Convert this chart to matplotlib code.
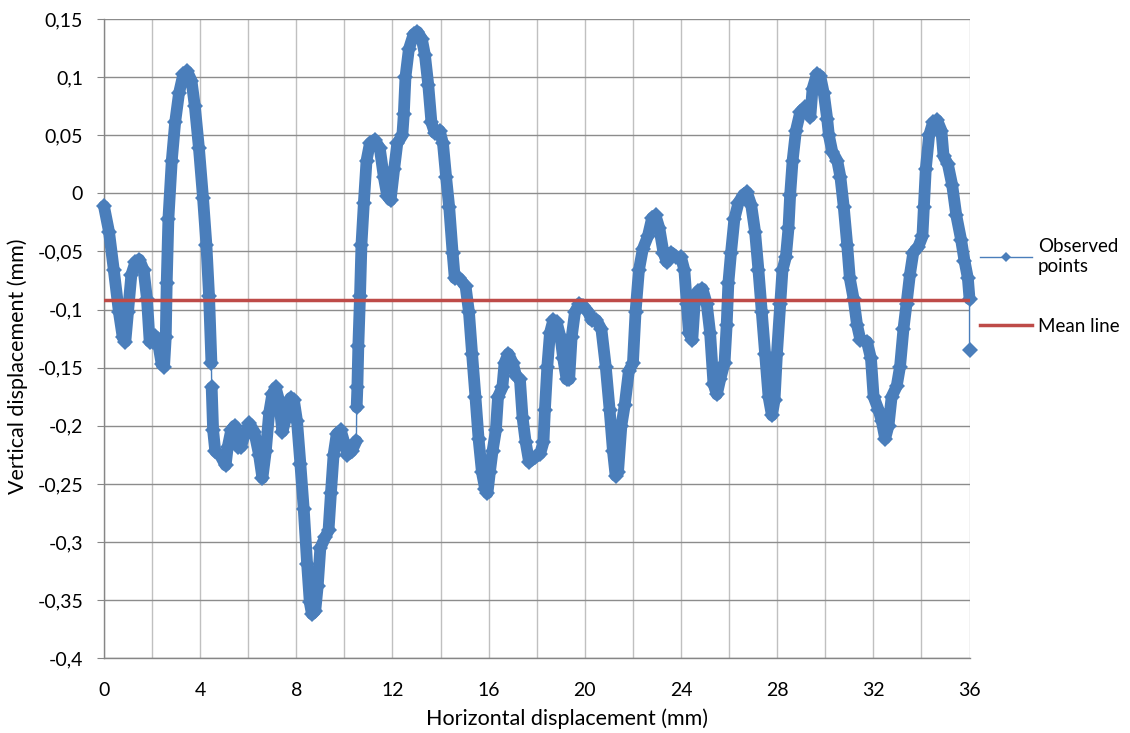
import numpy as np
import matplotlib
matplotlib.use('Agg')
import matplotlib.pyplot as plt
from matplotlib.ticker import FuncFormatter, MultipleLocator

# values (mm)
x_mm = [
    0, 0.21, 0.41, 0.62, 0.78, 0.89, 1.0, 1.14, 1.31, 1.47,
    1.65, 1.79, 1.9, 2.02, 2.13, 2.27, 2.4, 2.5, 2.57, 2.61,
    2.68, 2.82, 2.96, 3.12, 3.3, 3.46, 3.64, 3.78, 3.95, 4.12,
    4.26, 4.37, 4.47, 4.48, 4.54, 4.63, 4.85, 5.06, 5.15, 5.29,
    5.43, 5.59, 5.7, 5.86, 6.04, 6.25, 6.45, 6.59, 6.73, 6.87,
    7.0, 7.14, 7.28, 7.42, 7.55, 7.76, 7.9, 8.03, 8.17, 8.31,
    8.45, 8.56, 8.65, 8.79, 8.89, 9.0, 9.2, 9.34, 9.44, 9.55,
    9.68, 9.85, 9.99, 10.12, 10.3, 10.5, 10.51, 10.54, 10.58, 10.65,
    10.71, 10.81, 10.92, 11.06, 11.26, 11.47, 11.64, 11.78, 11.92, 12.07,
    12.2, 12.41, 12.47, 12.54, 12.68, 12.88, 13.04, 13.22, 13.35, 13.49,
    13.62, 13.76, 13.96, 14.1, 14.23, 14.36, 14.5, 14.59, 14.77, 15.04,
    15.18, 15.31, 15.45, 15.58, 15.72, 15.85, 15.95, 16.05, 16.16, 16.3,
    16.39, 16.57, 16.66, 16.82, 17.0, 17.14, 17.3, 17.41, 17.54, 17.68,
    17.93, 18.14, 18.28, 18.34, 18.44, 18.55, 18.69, 18.83, 18.99, 19.1,
    19.24, 19.35, 19.45, 19.59, 19.77, 19.93, 20.14, 20.28, 20.48, 20.69,
    20.87, 21.03, 21.17, 21.28, 21.38, 21.52, 21.66, 21.83, 22.0, 22.11,
    22.25, 22.41, 22.62, 22.8, 22.94, 23.1, 23.27, 23.41, 23.59, 23.79,
    24.0, 24.14, 24.24, 24.33, 24.47, 24.58, 24.72, 24.89, 25.07, 25.21,
    25.35, 25.49, 25.63, 25.81, 25.9, 25.97, 26.08, 26.22, 26.39, 26.6,
    26.74, 26.92, 27.08, 27.22, 27.36, 27.5, 27.64, 27.78, 27.89, 27.99,
    28.13, 28.22, 28.36, 28.47, 28.54, 28.64, 28.78, 28.96, 29.17, 29.38,
    29.47, 29.65, 29.79, 29.94, 30.08, 30.15, 30.29, 30.5, 30.63, 30.77,
    30.91, 31.02, 31.18, 31.32, 31.46, 31.73, 31.9, 32.01, 32.21, 32.35,
    32.49, 32.63, 32.76, 32.97, 33.11, 33.25, 33.38, 33.52, 33.66, 33.87,
    34.04, 34.1, 34.18, 34.32, 34.48, 34.65, 34.83, 34.92, 35.1, 35.28,
    35.45, 35.65, 35.79, 35.93, 36.0, 36.0,
]
y_mm = [
    -0.011, -0.033, -0.066, -0.102, -0.124, -0.1275, -0.102, -0.070, -0.059, -0.057,
    -0.066, -0.091, -0.1275, -0.1275, -0.123, -0.131, -0.147, -0.149, -0.124, -0.077,
    -0.022, 0.028, 0.061, 0.086, 0.1025, 0.105, 0.097, 0.075, 0.039, -0.004,
    -0.044, -0.088, -0.146, -0.167, -0.204, -0.222, -0.226, -0.234, -0.218, -0.204,
    -0.200, -0.218, -0.218, -0.207, -0.198, -0.205, -0.225, -0.245, -0.222, -0.189,
    -0.173, -0.167, -0.178, -0.205, -0.195, -0.176, -0.178, -0.196, -0.233, -0.272,
    -0.319, -0.352, -0.362, -0.359, -0.338, -0.305, -0.296, -0.29, -0.258, -0.225,
    -0.207, -0.204, -0.214, -0.225, -0.222, -0.213, -0.184, -0.167, -0.131, -0.088,
    -0.044, -0.008, 0.028, 0.043, 0.046, 0.039, 0.014, -0.002, -0.006, 0.021,
    0.043, 0.05, 0.068, 0.1, 0.124, 0.137, 0.139, 0.133, 0.119, 0.093,
    0.061, 0.052, 0.054, 0.043, 0.014, -0.012, -0.051, -0.073, -0.073, -0.08,
    -0.102, -0.138, -0.175, -0.211, -0.24, -0.254, -0.258, -0.24, -0.222, -0.204,
    -0.175, -0.167, -0.146, -0.138, -0.146, -0.157, -0.16, -0.193, -0.214, -0.231,
    -0.227, -0.224, -0.214, -0.186, -0.149, -0.12, -0.109, -0.111, -0.124, -0.142,
    -0.16, -0.16, -0.124, -0.102, -0.095, -0.097, -0.102, -0.109, -0.109, -0.117,
    -0.149, -0.186, -0.222, -0.243, -0.24, -0.2, -0.182, -0.153, -0.146, -0.102,
    -0.066, -0.048, -0.037, -0.021, -0.019, -0.03, -0.051, -0.059, -0.051, -0.055,
    -0.055, -0.066, -0.095, -0.12, -0.126, -0.091, -0.084, -0.082, -0.095, -0.12,
    -0.164, -0.173, -0.16, -0.146, -0.113, -0.077, -0.051, -0.022, -0.008, -0.001,
    0.001, -0.01, -0.033, -0.066, -0.102, -0.138, -0.175, -0.191, -0.178, -0.138,
    -0.095, -0.066, -0.055, -0.03, -0.001, 0.028, 0.054, 0.07, 0.074, 0.066,
    0.09, 0.1025, 0.101, 0.086, 0.064, 0.05, 0.036, 0.028, 0.014, -0.012,
    -0.044, -0.073, -0.091, -0.113, -0.126, -0.1275, -0.142, -0.175, -0.186, -0.196,
    -0.211, -0.2, -0.175, -0.166, -0.149, -0.117, -0.095, -0.07, -0.051, -0.046,
    -0.037, -0.012, 0.021, 0.05, 0.061, 0.063, 0.054, 0.032, 0.025, 0.007,
    -0.019, -0.04, -0.058, -0.073, -0.091, -0.135,
]
mean_x = [0, 36]
mean_y = [-0.092, -0.092]

blue = '#4a7ebb'
red = '#be4b48'
plt.rcParams['font.family'] = ['Lato', 'DejaVu Sans']

xs = np.array(x_mm)
ys = np.array(y_mm)
# where the measurement jumps straight up/down, the reference shows only the thin line
jump = (np.diff(xs) < 0.02) & (np.abs(np.diff(ys)) > 0.015)
cut = np.where(jump)[0] + 1
band_x = np.insert(xs, cut, np.nan)
band_y = np.insert(ys, cut, np.nan)

fig = plt.figure(figsize=(11.3, 7.33), dpi=100)
ax = fig.add_axes([0.092, 0.102, 0.766, 0.872])

ax.plot(band_x, band_y, color=blue, linewidth=8.5, solid_capstyle='round',
        solid_joinstyle='round', zorder=3, clip_on=False)
ax.plot(xs, ys, color=blue, linewidth=1, marker='D', markersize=8,
        markeredgewidth=0, label='Observed\npoints', zorder=4, clip_on=False)
ax.plot(mean_x, mean_y, color=red, linewidth=2.5, label='Mean line', zorder=5)

ax.set_xlim(0, 36)
ax.set_ylim(-0.4, 0.15)
ax.xaxis.set_major_locator(MultipleLocator(2))
ax.yaxis.set_major_locator(MultipleLocator(0.05))
ax.xaxis.set_major_formatter(FuncFormatter(lambda v, p: '%d' % round(v) if round(v) % 4 == 0 else ''))
ax.yaxis.set_major_formatter(FuncFormatter(lambda v, p: ('%g' % round(v, 2)).replace('.', ',')))

ax.grid(axis='y', color='#8c8c8c', linewidth=1)
ax.grid(axis='x', color='#c0c0c0', linewidth=1)
ax.set_axisbelow(True)
for s in ['top', 'right']:
    ax.spines[s].set_visible(False)
for s in ['left', 'bottom']:
    ax.spines[s].set_color('#868686')
    ax.spines[s].set_linewidth(1)

ax.tick_params(axis='y', length=5, color='#868686', pad=10, labelsize=14)
ax.tick_params(axis='x', length=0, pad=17, labelsize=14)

ax.set_xlabel('Horizontal displacement (mm)', fontsize=15.5)
ax.set_ylabel('Vertical displacement (mm)', fontsize=15.5)
ax.xaxis.set_label_coords(0.535, -0.078)
ax.yaxis.set_label_coords(-0.088, 0.457)

ax.legend(loc='center left', bbox_to_anchor=(1.003, 0.582), frameon=False,
          prop={'size': 13.5}, handlelength=2.8, borderaxespad=0,
          handletextpad=0.3, labelspacing=2.3, numpoints=1, markerscale=0.7)

plt.savefig('out.png', dpi=100)
